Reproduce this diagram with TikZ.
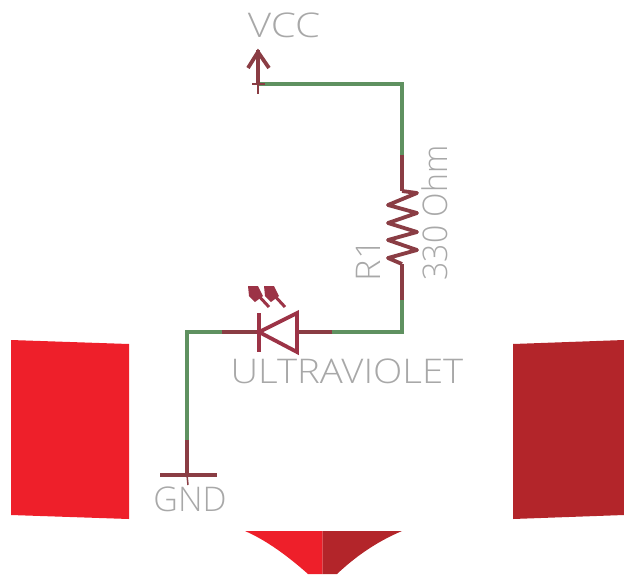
\documentclass[tikz,border=0pt]{standalone}
\usepackage{fontspec}
\setmainfont{Open Sans Light}
\definecolor{wiregreen}{HTML}{5F9160}
\definecolor{wirered}{HTML}{8A3D44}
\definecolor{partred}{HTML}{9C3346}
\definecolor{labelgray}{HTML}{A8A8A8}
\definecolor{tablight}{HTML}{EE1F2A}
\definecolor{tabdark}{HTML}{B3252A}
\tikzset{
    greenwire/.style={draw=wiregreen, line width=3.8pt},
    redwire/.style={draw=wirered, line width=3.8pt},
    partline/.style={draw=partred, line width=3.8pt},
    thinstub/.style={draw=wirered, line width=1.5pt},
    schlabel/.style={text=labelgray, font=\fontsize{34}{34}\selectfont, inner sep=0pt}
}
\begin{document}
\begin{tikzpicture}[x=1pt, y=-1pt]
            \useasboundingbox (0, 0) rectangle (624, 574);

            %red tabs
            \fill[tablight] (11, 340) -- (129, 344) -- (129, 519) -- (11, 515) -- cycle;
            \fill[tabdark] (513, 344) -- (624, 340) -- (624, 515) -- (513, 519) -- cycle;
            \fill[tablight] (245, 531) -- (322.5, 531) -- (322.5, 574) -- (308, 574) .. controls (290, 558) and (268, 541) .. (245, 531) -- cycle;
            \fill[tabdark] (322.5, 531) -- (402, 531) .. controls (376, 542) and (355, 557) .. (337, 574) -- (322.5, 574) -- cycle;

            %junctions
            \coordinate (vcc) at (258, 84);
            \coordinate (top) at (402, 84);
            \coordinate (r_in) at (402, 155);
            \coordinate (r_a) at (402, 191);
            \coordinate (r_b) at (402, 264);
            \coordinate (r_out) at (402, 300);
            \coordinate (corner) at (402, 332);
            \coordinate (led_in) at (332, 332);
            \coordinate (led_a) at (297, 332);
            \coordinate (led_k) at (259, 332);
            \coordinate (led_out) at (222, 332);
            \coordinate (left) at (187, 332);
            \coordinate (g_in) at (187, 440);
            \coordinate (gnd) at (187, 475);

            %wires
            \draw[greenwire, line join=miter] (vcc) -- (top) -- (r_in);
            \draw[greenwire, line join=miter] (r_out) -- (corner) -- (led_in);
            \draw[greenwire, line join=miter] (g_in) -- (left) -- (led_out);
            \draw[redwire] (r_in) -- (r_a);
            \draw[redwire] (r_b) -- (r_out);
            \draw[redwire] (led_in) -- (led_a);
            \draw[redwire] (led_k) -- (led_out);
            \draw[redwire] (g_in) -- (gnd);

            %vcc symbol
            \draw[redwire] (vcc) -- (258, 50);
            \draw[redwire] (248, 68) -- (258, 52) -- (269, 68);
            \draw[thinstub] (252, 84) -- (265, 84);
            \draw[thinstub] (vcc) -- (258, 94);
            \node[schlabel, xscale=1.19] (label_vcc) at (284, 25) {VCC};

            %resistor
            \draw[redwire, line join=round] (r_a) -- (417, 193) -- (388, 205) -- (417, 213) -- (388, 223)
                -- (417, 232) -- (388, 240) -- (417, 250) -- (388, 258) -- (r_b);
            \node[schlabel, rotate=90, xscale=1.06] (label_r) at (368, 260) {R1};
            \node[schlabel, rotate=90, xscale=0.94] (label_ohm) at (435, 213) {330 Ohm};

            %diode
            \draw[partline, line join=miter] (297, 313) -- (297, 352) -- (led_k) -- cycle;
            \draw[partline] (259, 313) -- (259, 352);
            \foreach \lx in {0, 16}{
                \draw[partline, line width=3pt] (\lx + 269, 307) -- (\lx + 256, 293);
                \fill[partred] (\lx + 248, 286) -- (\lx + 258, 286) -- (\lx + 263, 296) -- (\lx + 255, 302) -- (\lx + 249, 296) -- cycle;
            };
            \node[schlabel, xscale=1.127] (label_led) at (347, 371) {ULTRAVIOLET};

            %gnd symbol
            \draw[redwire] (160, 475) -- (217, 475);
            \draw[thinstub] (gnd) -- (188, 485);
            \node[schlabel] (label_gnd) at (190, 499) {GND};
\end{tikzpicture}
\end{document}
